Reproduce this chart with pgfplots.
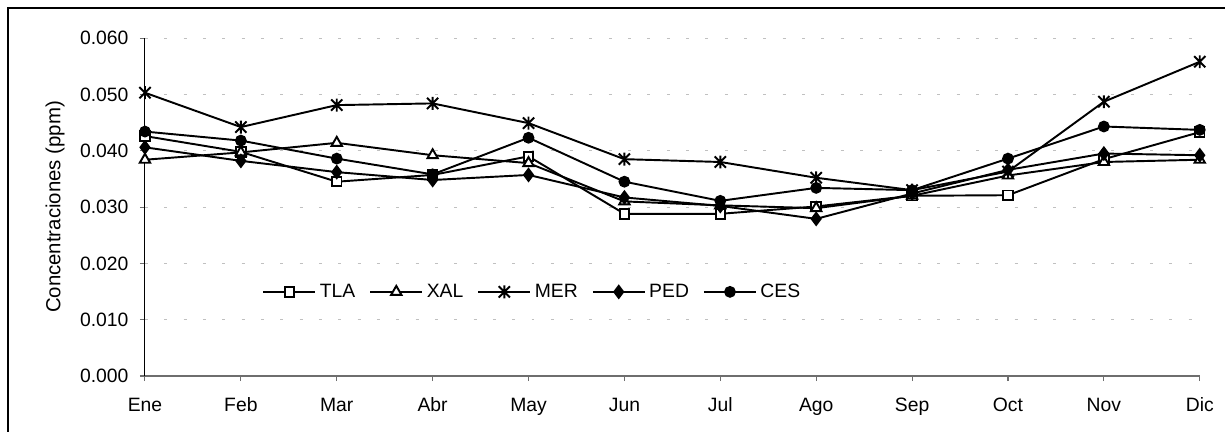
\documentclass[border=0pt]{standalone}
\usepackage{pgfplots}
\pgfplotsset{compat=1.18}
\usepackage{pgfplotstable}
\usepackage{fontspec}
\setmainfont{Liberation Sans}
\definecolor{gridgray}{RGB}{192,192,192}
\definecolor{axgray}{RGB}{110,110,110}

\pgfdeclareplotmark{xstar}{%
  \pgfpathmoveto{\pgfqpoint{-\pgfplotmarksize}{-\pgfplotmarksize}}%
  \pgfpathlineto{\pgfqpoint{\pgfplotmarksize}{\pgfplotmarksize}}%
  \pgfpathmoveto{\pgfqpoint{-\pgfplotmarksize}{\pgfplotmarksize}}%
  \pgfpathlineto{\pgfqpoint{\pgfplotmarksize}{-\pgfplotmarksize}}%
  \pgfpathmoveto{\pgfqpoint{0pt}{-1.15\pgfplotmarksize}}%
  \pgfpathlineto{\pgfqpoint{0pt}{1.15\pgfplotmarksize}}%
  \pgfusepathqstroke}

\pgfplotstableread{
m TLA XAL MER PED CES
0 0.0426 0.0384 0.0503 0.0406 0.0434
1 0.0398 0.0397 0.0442 0.0382 0.0418
2 0.0345 0.0414 0.0481 0.0362 0.0386
3 0.0357 0.0392 0.0484 0.0348 0.0358
4 0.0390 0.0378 0.0449 0.0357 0.0423
5 0.0288 0.0310 0.0385 0.0317 0.0345
6 0.0288 0.0303 0.0380 0.0302 0.0311
7 0.0301 0.0298 0.0352 0.0279 0.0334
8 0.0320 0.0320 0.0330 0.0324 0.0330
9 0.0321 0.0356 0.0363 0.0366 0.0386
10 0.0385 0.0380 0.0487 0.0395 0.0443
11 0.0433 0.0384 0.0558 0.0392 0.0437
}\datatable

\begin{document}
\begin{tikzpicture}[x=0.02cm,y=0.02cm,font=\fontsize{11}{13}\selectfont]
\useasboundingbox (0,0) rectangle (1225,432);
\draw[line width=1.4pt] (8,-20) -- (8,424) -- (1260,424);
\begin{axis}[
  at={(2.9cm,1.12cm)}, anchor=south west,
  width=21.1cm, height=6.76cm, scale only axis,
  xmin=0, xmax=11, ymin=0, ymax=0.06,
  axis x line*=bottom, axis y line*=left,
  x axis line style={draw=axgray, line width=0.6pt},
  y axis line style={draw=black, line width=0.6pt},
  xtick={0,...,11},
  xticklabels={Ene,Feb,Mar,Abr,May,Jun,Jul,Ago,Sep,Oct,Nov,Dic},
  ytick={0,0.01,0.02,0.03,0.04,0.05,0.06},
  scaled y ticks=false,
  /pgf/number format/fixed,
  /pgf/number format/fixed zerofill,
  /pgf/number format/precision=3,
  /pgf/number format/assume math mode=true,
  tick align=outside, major tick length=0.1cm,
  tick style={line width=0.6pt, color=axgray},
  ymajorgrids,
  major grid style={draw=gridgray, line width=0.6pt, dash pattern=on 1.7pt off 9.3pt},
  xticklabel style={yshift=-6pt},
  yticklabel style={xshift=-3pt},
  ylabel={Concentraciones (ppm)},
  ylabel style={at={(axis description cs:-0.0853,0.5)}, anchor=center, font=\fontsize{11.6}{13}\selectfont},
  clip=false,
  legend columns=-1,
  legend style={at={(0.111,0.249)}, anchor=west, draw=none, fill=none, inner sep=0pt,
    /tikz/every even column/.append style={column sep=6pt},
    nodes={inner sep=2pt}},
  legend image code/.code={\draw[mark repeat=2,mark phase=2] plot coordinates {(0cm,0cm)(0.52cm,0cm)(1.04cm,0cm)};},
  every axis plot/.append style={black, line width=1.1pt, mark options={solid, line width=0.9pt}},
]
\addplot[mark=square*, mark size=2.7pt, mark options={fill=white}] table[x=m,y=TLA]{\datatable};
\addlegendentry{TLA}
\addplot[mark=triangle*, mark size=3.4pt, mark options={fill=white}] table[x=m,y=XAL]{\datatable};
\addlegendentry{XAL}
\addplot[mark=xstar, mark size=3.2pt, mark options={line width=1.1pt}] table[x=m,y=MER]{\datatable};
\addlegendentry{MER}
\addplot[mark=diamond*, mark size=3.4pt, mark options={fill=black}] table[x=m,y=PED]{\datatable};
\addlegendentry{PED}
\addplot[mark=*, mark size=2.8pt, mark options={fill=black}] table[x=m,y=CES]{\datatable};
\addlegendentry{CES}
\end{axis}
\end{tikzpicture}
\end{document}
